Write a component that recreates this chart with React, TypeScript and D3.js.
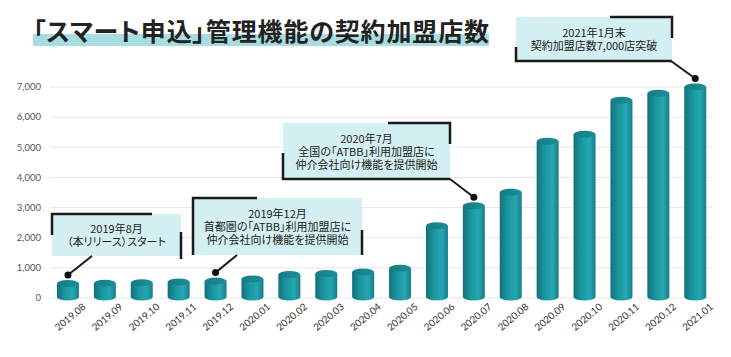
import React from "react";
import * as d3 from "d3";

const categories = [
  "2019.08", "2019.09", "2019.10", "2019.11", "2019.12",
  "2020.01", "2020.02", "2020.03", "2020.04", "2020.05",
  "2020.06", "2020.07", "2020.08", "2020.09", "2020.10",
  "2020.11", "2020.12", "2021.01",
];
const storeCounts = [
  480, 490, 510, 530, 560,
  630, 780, 810, 860, 990,
  2400, 3060, 3510, 5200, 5430,
  6560, 6790, 7000,
];
const yTicks = [0, 1000, 2000, 3000, 4000, 5000, 6000, 7000];
const titleText = "「スマート申込」管理機能の契約加盟店数";

const calloutCategories = ["2019.08", "2019.12", "2020.07", "2021.01"];
const calloutTexts = [
  ["2019年8月", "（本リリース）スタート"],
  ["2019年12月", "首都圏の「ATBB」利用加盟店に", "仲介会社向け機能を提供開始"],
  ["2020年7月", "全国の「ATBB」利用加盟店に", "仲介会社向け機能を提供開始"],
  ["2021年1月末", "契約加盟店数7,000店突破"],
];

// layout of callout boxes (x0, y0, x1, y1), leader anchor, frame style
const boxLayout = [
  { x0: 52, y0: 214, x1: 181, y1: 256, ax: 92, ay: 256, style: "A" },
  { x0: 193, y0: 198, x1: 362, y1: 255, ax: 237, ay: 255, style: "B" },
  { x0: 283, y0: 123, x1: 450, y1: 179, ax: 450, ay: 179, style: "C" },
  { x0: 516, y0: 17, x1: 672, y1: 61, ax: 671, ay: 61, style: "C" },
];

const W = 731;
const H = 357;

export default function App() {
  const x = d3
    .scaleBand<string>()
    .domain(categories)
    .range([49.5, 713.7])
    .paddingInner(0.4)
    .paddingOuter(0.2);
  const bw = 22;
  const y = d3.scaleLinear().domain([0, 7000]).range([298, 87]);
  const cx = (c: string) => (x(c) as number) + x.bandwidth() / 2;
  const rx = bw / 2;
  const ry = 3.5;
  const fmt = d3.format(",");
  const palt = { fontFeatureSettings: '"palt" 1' } as React.CSSProperties;

  const frame = (b: any) => {
    const { x0, y0, x1, y1, style } = b;
    if (style === "A") {
      return `M${x0},${y0 + 21} L${x0},${y0} L${x0 + 100},${y0} M${x1},${y0 + 18} L${x1},${y1 + 3}`;
    }
    if (style === "B") {
      return `M${x0},${y1} L${x0},${y0} L${x0 + 64},${y0} M${x1},${y0 + 32} L${x1},${y1}`;
    }
    return `M${x1 - 62},${y0} L${x1},${y0} L${x1},${y0 + 21} M${x0},${y0 + 30} L${x0},${y1} L${x1},${y1}`;
  };

  return (
    <svg width={W} height={H} style={{ display: "block", position: "absolute", left: 0, top: 0 }}>
      <defs>
        <linearGradient id="cyl" x1="0" x2="1" y1="0" y2="0">
          <stop offset="0%" stopColor="#13707a" />
          <stop offset="35%" stopColor="#1a959f" />
          <stop offset="72%" stopColor="#25a7b1" />
          <stop offset="100%" stopColor="#167d87" />
        </linearGradient>
        <linearGradient id="cylTop" x1="0" x2="1" y1="0" y2="0">
          <stop offset="0%" stopColor="#157c86" />
          <stop offset="100%" stopColor="#1d8e98" />
        </linearGradient>
      </defs>
      <rect width={W} height={H} fill="#ffffff" />

      {/* title */}
      <rect x={33} y={34} width={456} height={12} fill="#a6dde2" />
      <text
        x={33}
        y={41}
        fontFamily="'Noto Sans CJK JP', sans-serif"
        fontWeight={700}
        fontSize={25}
        fill="#222"
        textLength={456}
        lengthAdjust="spacing"
        style={palt}
      >
        {titleText}
      </text>

      {/* grid + y labels */}
      {yTicks.map((t) => (
        <g key={t}>
          <line x1={50} x2={712} y1={y(t)} y2={y(t)} stroke="#e6e6e6" strokeWidth={1} />
          <text
            x={41}
            y={y(t)}
            dy="0.35em"
            textAnchor="end"
            fontFamily="Lato, 'Noto Sans', sans-serif"
            fontSize={9.5}
            fill="#555"
          >
            {fmt(t)}
          </text>
        </g>
      ))}

      {/* cylinders */}
      {categories.map((c, i) => {
        const xc = cx(c);
        const yt = y(storeCounts[i]);
        const yb = y(0) - 1;
        return (
          <g key={c}>
            <path
              d={`M${xc - rx},${yt} L${xc - rx},${yb} A${rx},${ry} 0 0 0 ${xc + rx},${yb} L${xc + rx},${yt} Z`}
              fill="url(#cyl)"
            />
            <ellipse cx={xc} cy={yt} rx={rx} ry={ry} fill="url(#cylTop)" />
          </g>
        );
      })}

      {/* x labels */}
      {categories.map((c) => (
        <text
          key={c}
          transform={`translate(${cx(c) + 2},${316.5}) rotate(-40)`}
          textAnchor="middle"
          dominantBaseline="central"
          fontFamily="Lato, 'Noto Sans', sans-serif"
          fontSize={9.8}
          fill="#333"
        >
          {c}
        </text>
      ))}

      {/* callouts */}
      {calloutCategories.map((c, k) => {
        const b = boxLayout[k];
        const i = categories.indexOf(c);
        const dx = cx(c);
        const dy = y(storeCounts[i]) - 8.5;
        const lines = calloutTexts[k];
        const mid = (b.x0 + b.x1) / 2;
        const lh = 13;
        const ymid = (b.y0 + b.y1) / 2 + 1;
        return (
          <g key={c}>
            <rect x={b.x0} y={b.y0} width={b.x1 - b.x0} height={b.y1 - b.y0} fill="#d3eff1" />
            <path d={frame(b)} fill="none" stroke="#1a1a1a" strokeWidth={2.5} />
            <line x1={b.ax} y1={b.ay} x2={dx} y2={dy} stroke="#1a1a1a" strokeWidth={2} />
            <circle cx={dx} cy={dy} r={3.5} fill="#111" />
            {lines.map((t, j) => (
              <text
                key={j}
                x={mid}
                y={ymid + (j - (lines.length - 1) / 2) * lh}
                dy="0.35em"
                textAnchor="middle"
                fontFamily="'Noto Sans CJK JP', sans-serif"
                fontSize={11}
                fill="#222"
                style={palt}
              >
                {t}
              </text>
            ))}
          </g>
        );
      })}
    </svg>
  );
}
